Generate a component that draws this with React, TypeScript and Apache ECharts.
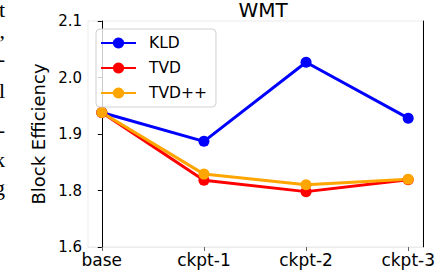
import React, { useEffect, useRef } from "react";
import * as echarts from "echarts";

const categories = ["base", "ckpt-1", "ckpt-2", "ckpt-3"];
const kld = [1.938, 1.887, 2.027, 1.928];
const tvd = [1.938, 1.818, 1.798, 1.819];
const tvdpp = [1.938, 1.829, 1.81, 1.82];
const yTickLabels: Record<string, string> = { "1.7": "1.6", "1.8": "1.8", "1.9": "1.9", "2.0": "2.0", "2.1": "2.1" };
const sideFragments = [
  { ch: "t", y: 17 },
  { ch: ",", y: 38 },
  { ch: "-", y: 66 },
  { ch: "l", y: 98 },
  { ch: "-", y: 137 },
  { ch: "k", y: 167 },
  { ch: "g", y: 195 },
];

const FONT = "DejaVu Sans";

export default function App() {
  const ref = useRef<HTMLDivElement>(null);
  useEffect(() => {
    if (!ref.current) return;
    const chart = echarts.init(ref.current, undefined, { renderer: "svg" });
    const mk = (name: string, color: string, vals: number[]) => ({
      name,
      type: "line",
      data: vals.map((v, i) => [i, v]),
      symbol: "circle",
      symbolSize: 11,
      lineStyle: { width: 3, color },
      itemStyle: { color },
      emphasis: { disabled: true },
    });
    chart.setOption({
      animation: false,
      backgroundColor: "#fff",
      title: {
        text: "WMT",
        left: 258,
        top: -5,
        textAlign: "center",
        textStyle: { fontFamily: FONT, fontSize: 20, fontWeight: "normal", color: "#000" },
      },
      grid: {
        left: 88,
        right: 10,
        top: 21,
        bottom: 25,
        show: true,
        borderColor: "#ebebeb",
        borderWidth: 1,
        backgroundColor: "#fff",
      },
      legend: {
        orient: "vertical",
        left: 96,
        top: 29,
        padding: [6, 9, 6, 4],
        itemWidth: 35,
        itemHeight: 14,
        itemGap: 9,
        borderColor: "#d0d0d0",
        borderWidth: 1,
        borderRadius: 4,
        backgroundColor: "rgba(255,255,255,0.8)",
        textStyle: { fontFamily: FONT, fontSize: 15.5, color: "#000", padding: [0, 0, 0, 8] },
        data: ["KLD", "TVD", "TVD++"],
      },
      xAxis: {
        type: "value",
        min: -0.135,
        max: 3.145,
        splitLine: { show: false },
        axisLine: { show: true, lineStyle: { color: "#ebebeb", width: 1 } },
        axisTick: { show: true, customValues: [0, 1, 2, 3], length: 4, lineStyle: { color: "#666" } },
        axisLabel: {
          customValues: [0, 1, 2, 3],
          formatter: (v: number) => categories[Math.round(v)] ?? "",
          fontFamily: FONT,
          fontSize: 17,
          color: "#000",
          margin: 4,
        },
      },
      yAxis: [
        {
          type: "value",
          min: 1.7,
          max: 2.1,
          interval: 0.1,
          name: "Block Efficiency",
          nameLocation: "middle",
          nameGap: 37,
          nameTextStyle: { fontFamily: FONT, fontSize: 18, color: "#000" },
          splitLine: { show: false },
          axisLine: { show: true, lineStyle: { color: "#000", width: 1 } },
          axisTick: { show: true, length: 4, lineStyle: { color: "#000" } },
          axisLabel: {
            formatter: (v: number) => yTickLabels[v.toFixed(1)] ?? "",
            fontFamily: FONT,
            fontSize: 15,
            color: "#000",
            margin: 6,
          },
        },
        {
          type: "value",
          min: 1.7,
          max: 2.1,
          interval: 0.1,
          position: "right",
          splitLine: { show: false },
          axisLine: { show: true, lineStyle: { color: "#000", width: 1 } },
          axisTick: { show: false },
          axisLabel: { show: false },
        },
      ],
      graphic: sideFragments.map((f) => ({
        type: "text",
        x: 5,
        y: f.y,
        silent: true,
        style: {
          text: f.ch,
          align: "right",
          verticalAlign: "bottom",
          font: "22px 'Liberation Serif'",
          lineHeight: 15,
          fill: "#000",
        },
      })),
      series: [mk("KLD", "#0000ff", kld), mk("TVD", "#ff0000", tvd), mk("TVD++", "#ffa500", tvdpp)],
    });
    return () => chart.dispose();
  }, []);
  return <div ref={ref} style={{ width: 438, height: 272, position: "absolute", left: 0, top: 0 }} />;
}
